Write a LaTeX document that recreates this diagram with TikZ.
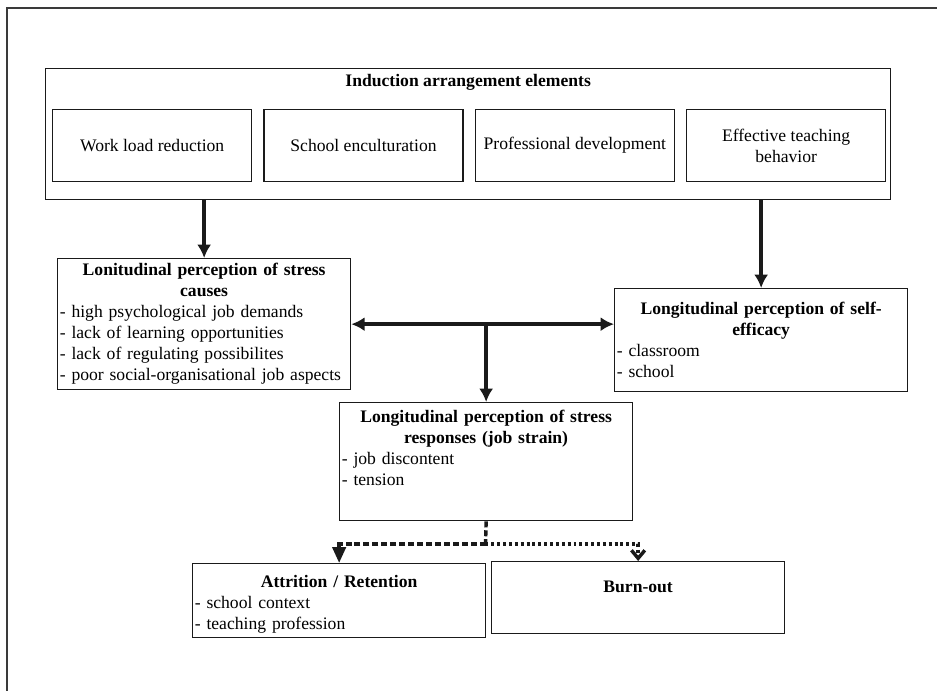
\documentclass[tikz,border=0pt]{standalone}
\usepackage{fontspec}
\setmainfont{Liberation Serif}
\usetikzlibrary{arrows.meta,positioning}
\definecolor{ink}{HTML}{1A1A1A}
\definecolor{frame}{HTML}{3A3A3A}

\tikzset{
  box/.style={draw=ink,line width=1pt,inner xsep=1.6pt,inner ysep=2pt,font=\fontsize{13.2}{15.75}\selectfont},
  elembox/.style={box,minimum width=149.25pt,minimum height=54pt,align=center},
  infobox/.style={box,anchor=north west,text width=216.5pt,minimum height=#1},
  flow/.style={line width=2.6pt,draw=ink,>={Latex[length=10pt,width=10.5pt]}},
  dashflow/.style={line width=2.6pt,draw=ink,dash pattern=on 4.5pt off 2.2pt},
  dotflow/.style={line width=2.6pt,draw=ink,dash pattern=on 2.2pt off 2.2pt},
}

\begin{document}
\begin{tikzpicture}[x=0.75pt,y=-0.75pt]
\useasboundingbox (0,0) rectangle (937,691);
% page frame
\draw[frame,line width=1.1pt] (7,691) -- (7,8) -- (937,8);

% induction elements
\node[box,anchor=north west,minimum width=633.75pt,minimum height=98.25pt] (induct) at (45,68) {};
\node[font=\fontsize{13.2}{15.75}\selectfont\bfseries,inner sep=2pt,below=2.5pt of induct.north] (inducttitle) {Induction arrangement elements};
\node[elembox,anchor=north west] (workload) at (52,109) {Work load reduction};
\node[elembox,right=8.25pt of workload] (encult) {School enculturation};
\node[elembox,right=8.25pt of encult] (profdev) {Professional development};
\node[elembox,right=8.25pt of profdev] (teaching) {Effective teaching\\behavior};

% perceptions
\node[infobox=98.25pt] (causes) at (57,258) {\centering\textbf{Lonitudinal perception of stress\\causes}\par\raggedright
- high psychological job demands\\
- lack of learning opportunities\\
- lack of regulating possibilites\\
- poor social-organisational job aspects};
\node[infobox=77.25pt] (selfeff) at (614,288) {\centering\textbf{Longitudinal perception of self-\\efficacy}\par\raggedright
- classroom\\
- school};
\node[infobox=88.5pt] (responses) at (339,402) {\centering\textbf{Longitudinal perception of stress\\responses (job strain)}\par\raggedright
- job discontent\\
- tension\par\rule{0pt}{19pt}};

% outcomes
\node[infobox=55.5pt] (attrition) at (192,563) {\centering\rule{0pt}{15pt}\textbf{Attrition / Retention}\par\raggedright
- school context\\
- teaching profession};
\node[infobox=54pt] (burnout) at (491,561) {\centering\textbf{Burn-out}\par\rule{0pt}{15pt}};

% connectors
\draw[flow,->] (induct.south -| causes.north) -- (causes.north);
\draw[flow,->] (induct.south -| selfeff.north) -- (selfeff.north);
\draw[flow,<->] (causes.east) -- (causes.east -| selfeff.west);
\draw[flow,->] (causes.east -| responses.north) -- (responses.north);
\coordinate (split) at (485.5,544);
\draw[dashflow] (responses.south) -- (split);
\draw[dashflow,-{Triangle[length=12pt,width=10pt]}] (split) -| (attrition.north);
\draw[dotflow,-{Straight Barb[length=6pt,width=10pt]}] (split) -| (burnout.north);
\end{tikzpicture}
\end{document}
